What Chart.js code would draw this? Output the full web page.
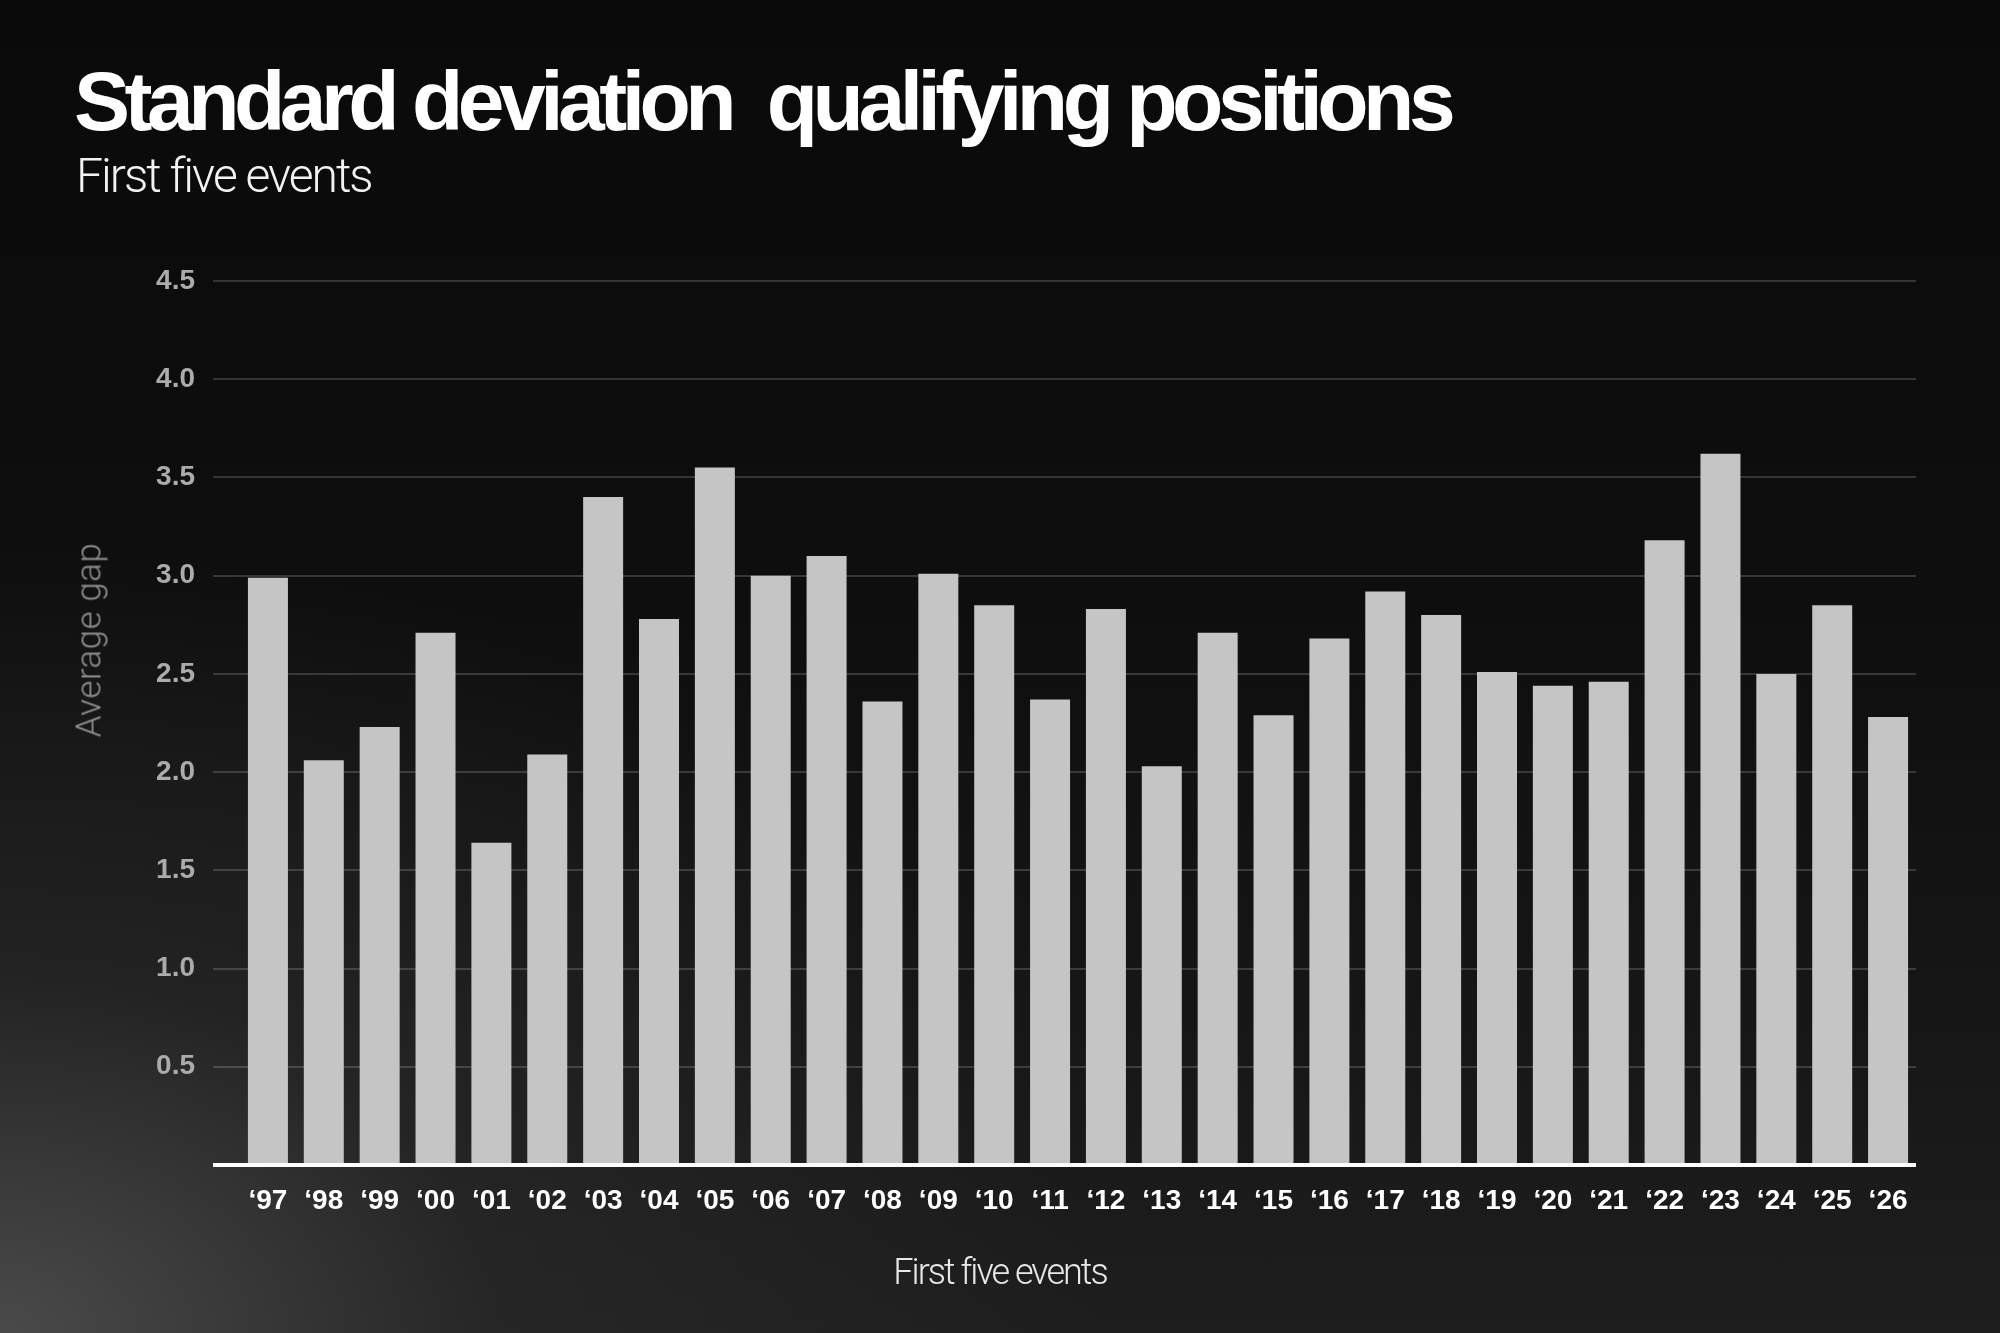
<!DOCTYPE html>
<html>
<head>
<meta charset="utf-8">
<script src="https://cdn.jsdelivr.net/npm/chart.js@4.4.1/dist/chart.umd.min.js"></script>
<style>
  html, body { margin: 0; padding: 0; }
  body {
    width: 2000px; height: 1333px; overflow: hidden; position: relative;
    background:
      radial-gradient(ellipse 1100px 800px at 0% 100%, rgba(85,85,85,0.8) 0%, rgba(45,45,45,0.55) 45%, rgba(0,0,0,0) 100%),
      linear-gradient(to bottom, #0a0a0a 0%, #0e0e0e 45%, #161616 75%, #1e1e1e 100%);
  }
  #wrap { position: absolute; left: 0; top: 0; width: 2000px; height: 1333px; }
  .txt { position: absolute; white-space: pre; line-height: 1; }
  #title { left: 74px; top: 59px; font-family: "Liberation Sans", Arial, sans-serif; font-weight: 700; font-size: 84px; letter-spacing: -5.5px; color: #ffffff; }
  #subtitle { left: 76px; top: 152px; font-family: Roboto, "Liberation Sans", sans-serif; font-weight: 300; font-size: 48px; letter-spacing: -2.0px; color: #f2f2f2; }
  #xtitle { left: 0; width: 2000px; text-align: center; top: 1254px; font-family: Roboto, "Liberation Sans", sans-serif; font-weight: 300; font-size: 36px; letter-spacing: -2px; color: #e8e8e8; }
  #ytitle { left: 89px; top: 640px; transform: translate(-50%, -50%) rotate(-90deg); font-family: Roboto, "Liberation Sans", sans-serif; font-weight: 300; font-size: 35px; letter-spacing: 0.5px; color: #8e8e8e; }
</style>
</head>
<body>
<div id="wrap"><canvas id="chart"></canvas></div>
<div class="txt" id="title">Standard deviation  qualifying positions</div>
<div class="txt" id="subtitle">First five events</div>
<div class="txt" id="xtitle">First five events</div>
<div class="txt" id="ytitle">Average gap</div>
<script>
const seasons = ["\u201897","\u201898","\u201899","\u201800","\u201801","\u201802","\u201803","\u201804","\u201805","\u201806",
                 "\u201807","\u201808","\u201809","\u201810","\u201811","\u201812","\u201813","\u201814","\u201815","\u201816",
                 "\u201817","\u201818","\u201819","\u201820","\u201821","\u201822","\u201823","\u201824","\u201825","\u201826"];
const stdDev = [2.99, 2.06, 2.23, 2.71, 1.64, 2.09, 3.40, 2.78, 3.55, 3.00,
                3.10, 2.36, 3.01, 2.85, 2.37, 2.83, 2.03, 2.71, 2.29, 2.68,
                2.92, 2.80, 2.51, 2.44, 2.46, 3.18, 3.62, 2.50, 2.85, 2.28];
const yTicks = [0, 0.5, 1.0, 1.5, 2.0, 2.5, 3.0, 3.5, 4.0, 4.5];

const gridCol = (ctx) => (ctx.tick && ctx.tick.value === 0) ? '#ffffff' : 'rgba(255,255,255,0.17)';
const gridW = (ctx) => (ctx.tick && ctx.tick.value === 0) ? 4 : 2;

new Chart(document.getElementById('chart'), {
  type: 'bar',
  data: {
    labels: seasons,
    datasets: [{
      data: stdDev,
      backgroundColor: '#c5c5c5',
      borderWidth: 0,
      barPercentage: 0.716,
      categoryPercentage: 1.0
    }]
  },
  options: {
    responsive: true,
    maintainAspectRatio: false,
    animation: false,
    layout: { padding: { left: 0, right: 84, top: 281, bottom: 0 } },
    plugins: { legend: { display: false }, tooltip: { enabled: false }, title: { display: false } },
    scales: {
      x: {
        grid: { display: false, drawTicks: false },
        border: { display: false },
        ticks: {
          color: '#ffffff',
          padding: 19,
          maxRotation: 0,
          autoSkip: false,
          font: { family: "'Liberation Sans Narrow', 'Liberation Sans', Arial, sans-serif", weight: 'bold', size: 28 }
        },
        afterFit: (s) => { s.height = 168; }
      },
      y: {
        min: 0,
        max: 4.5,
        afterBuildTicks: (s) => { s.ticks = yTicks.map(v => ({ value: v })); },
        border: { display: false },
        grid: {
          color: gridCol,
          lineWidth: gridW,
          drawTicks: true,
          tickLength: 27,
          tickColor: gridCol,
          tickWidth: gridW
        },
        ticks: {
          color: '#ababab',
          padding: 18,
          font: { family: "'Liberation Sans', Arial, sans-serif", weight: 'bold', size: 28 },
          callback: (v) => v === 0 ? '' : Number(v).toFixed(1)
        },
        afterFit: (s) => { s.width = 240; }
      }
    }
  }
});
</script>
</body>
</html>
